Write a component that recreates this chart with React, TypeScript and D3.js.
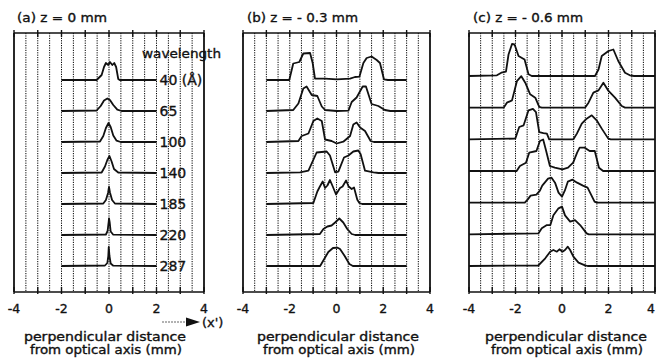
import React from "react";
import * as d3 from "d3";

// wavelength of each stacked profile, top to bottom
const wavelengthLabels = ["40 (Å)", "65", "100", "140", "185", "220", "287"];
const panelTitles = ["(a) z = 0 mm", "(b) z = - 0.3 mm", "(c) z = - 0.6 mm"];
const tickValues = [-4, -2, 0, 2, 4];

// profiles: [x' (mm), intensity (a.u.)]
const profilesA: [number, number][][] = [
  [[-2, 0], [-0.52, 0], [-0.31, 5], [-0.21, 13], [-0.13, 17], [-0.03, 15], [0.04, 18], [0.14, 15], [0.22, 17], [0.3, 13], [0.39, 1], [0.45, 0], [2, 0]],
  [[-2, 0], [-0.52, 0.5], [-0.35, 5], [-0.21, 10.5], [-0.07, 12.5], [0.04, 11], [0.18, 6], [0.35, 1.3], [0.53, 0], [2, 0]],
  [[-2, 0], [-0.38, 0.5], [-0.24, 6], [-0.13, 14], [-0.02, 19], [0.07, 15], [0.18, 6.5], [0.32, 1.3], [0.49, 0], [2, 0]],
  [[-2, 0], [-0.31, 0.5], [-0.17, 6.5], [-0.07, 13], [0.02, 17], [0.11, 11.5], [0.21, 4], [0.39, 0.5], [2, 0]],
  [[-2, 0], [-0.24, 0.5], [-0.13, 4], [-0.04, 11], [0, 17], [0.04, 11.5], [0.13, 4], [0.25, 0.5], [2, 0]],
  [[-2, 0], [-0.13, 0.5], [-0.06, 4], [-0.01, 14], [0, 16.5], [0.03, 12.5], [0.07, 3.5], [0.18, 0.3], [2, 0]],
  [[-2, 0], [-0.17, 0.5], [-0.07, 3], [-0.03, 10], [-0.01, 19], [0.02, 10], [0.07, 2.5], [0.18, 0.3], [2, 0]],
];

const profilesB: [number, number][][] = [
  [[-3, 0], [-2.02, 0], [-1.85, 16.5], [-1.59, 18], [-1.42, 26.5], [-1.13, 27], [-1.02, 17], [-0.92, 1.3], [-0.49, 1.3], [0.01, 0.7], [0.58, 1.3], [0.79, 3], [0.98, 3.3], [1.15, 17], [1.29, 22], [1.5, 23.5], [1.72, 20], [1.86, 17], [2.03, 0.7], [2.2, 0], [3, 0]],
  [[-3, 0], [-1.85, 1], [-1.63, 7.5], [-1.42, 22.5], [-1.28, 24.5], [-1.06, 16], [-0.82, 15], [-0.63, 4.5], [-0.49, 1], [0.01, 0], [0.51, 0.3], [0.65, 9], [0.86, 13.5], [1.12, 24.5], [1.26, 24.5], [1.5, 7], [1.79, 5], [2.07, 1], [2.3, 0], [3, 0]],
  [[-3, 0], [-1.63, 1], [-1.49, 6], [-1.2, 8.5], [-0.99, 21], [-0.82, 23.5], [-0.63, 21], [-0.49, 2.5], [-0.21, 1], [0.01, -1.5], [0.29, 0.3], [0.58, 6], [0.72, 17.5], [0.86, 19.5], [1.01, 14.5], [1.22, 11], [1.46, 1], [1.6, 0], [3, 0]],
  [[-3, 0], [-1.56, 0.7], [-1.2, 2.3], [-0.85, 20.5], [-0.42, 21.5], [-0.28, 17.5], [-0.06, 0.7], [0.08, 1.3], [0.32, 15.5], [0.51, 17.5], [0.72, 21.5], [0.93, 22.5], [1.03, 19], [1.22, 2.3], [1.58, 0.7], [1.8, 0], [3, 0]],
  [[-3, 0], [-0.99, 1], [-0.82, 12.5], [-0.71, 17.5], [-0.59, 22.5], [-0.49, 16], [-0.39, 18.5], [-0.28, 24], [-0.16, 17.5], [-0.02, 9.5], [0.15, 16], [0.26, 17.5], [0.41, 23.5], [0.52, 17.5], [0.65, 15], [0.75, 16.5], [0.89, 4.3], [0.98, 1], [1.1, 0], [3, 0]],
  [[-3, 0], [-0.71, 1], [-0.56, 6], [-0.39, 8.5], [-0.21, 9.5], [-0.06, 12.5], [0.12, 16.5], [0.29, 12.5], [0.46, 6], [0.65, 1], [0.8, 0], [3, 0]],
  [[-3, 0], [-0.7, 0], [-0.55, 6], [-0.35, 14], [-0.15, 18], [0.05, 18.3], [0.15, 17], [0.35, 10], [0.55, 2], [0.7, 0], [3, 0]],
];

const profilesC: [number, number][][] = [
  [[-4, 0], [-2.8, 0.7], [-2.61, 3.3], [-2.41, 4.3], [-2.3, 21.5], [-2.15, 32], [-2.04, 31.5], [-1.87, 20], [-1.61, 16.5], [-1.44, 1.7], [-1.3, 0], [1.42, 0], [1.57, 6.5], [1.71, 20], [2.0, 25], [2.21, 26.5], [2.42, 15], [2.71, 3.3], [2.92, 0.7], [3.1, 0], [4, 0]],
  [[-4, 0], [-2.51, 0], [-2.37, 5], [-2.15, 7.3], [-1.94, 26.5], [-1.75, 31.5], [-1.58, 25], [-1.37, 13.3], [-1.15, 10], [-0.98, 0.7], [-0.87, 0], [0.99, 0], [1.14, 5], [1.35, 15], [1.57, 17.3], [1.78, 25], [2.0, 16.7], [2.28, 10], [2.57, 1.7], [2.71, 0], [4, 0]],
  [[-4, 0], [-2.01, 0.7], [-1.84, 12.3], [-1.65, 14], [-1.44, 29], [-1.25, 30.5], [-1.12, 27.3], [-0.98, 7.3], [-0.8, 6.3], [-0.65, 5.7], [-0.55, 0], [0.49, 0], [0.64, 5.7], [0.85, 15.7], [1.06, 20.7], [1.28, 24], [1.49, 19], [1.71, 10.7], [1.99, 0.7], [2.1, 0], [4, 0]],
  [[-4, 0], [-1.95, 0], [-1.81, 5], [-1.55, 8.3], [-1.41, 18.3], [-1.1, 20], [-0.95, 30], [-0.81, 31.5], [-0.7, 21.7], [-0.52, 5], [-0.31, 3.3], [0.02, 1.7], [0.26, 3.3], [0.48, 8.3], [0.65, 18.3], [0.76, 23.3], [0.98, 23.3], [1.19, 20], [1.41, 20], [1.59, 3.3], [1.77, 0], [4, 0]],
  [[-4, 0], [-1.6, 0], [-1.48, 3], [-1.35, 7], [-1.1, 8], [-0.95, 12], [-0.85, 17], [-0.6, 24], [-0.45, 25], [-0.3, 20], [-0.15, 10], [0, 6], [0.12, 12], [0.25, 21], [0.45, 23], [0.65, 20], [0.9, 17], [1.1, 15], [1.25, 8], [1.4, 1], [1.5, 0], [4, 0]],
  [[-4, 0], [-1.01, 1], [-0.87, 6], [-0.65, 9.3], [-0.5, 9.3], [-0.37, 19], [-0.15, 26], [0, 27.7], [0.13, 19], [0.35, 12.7], [0.56, 14.3], [0.78, 9.3], [1.06, 1], [1.15, 0], [4, 0]],
  [[-4, 0], [-1.02, 0.5], [-0.72, 7.7], [-0.51, 14.3], [-0.37, 16], [-0.22, 14.3], [-0.11, 16.7], [0.02, 14.3], [0.13, 16], [0.25, 19.3], [0.35, 16], [0.49, 9.3], [0.71, 3.3], [0.99, 0.7], [1.1, 0], [4, 0]],
];

const FONT = "'DejaVu Sans', 'Liberation Sans', sans-serif";
const INK = "#111";
const W = 657;
const H = 363;

const layout = [
  { left: 14, right: 204, firstRow: 80, titleX: 17, titleW: 90, center: 105 },
  { left: 243, right: 430, firstRow: 80, titleX: 247, titleW: 111, center: 338 },
  { left: 469, right: 655, firstRow: 76, titleX: 473, titleW: 110, center: 566 },
];
const frameTop = 33;
const frameBottom = 292;
const lastRow = 266;

// slightly heavier glyphs, like the scanned print
const heavy = { stroke: INK, strokeWidth: 0.35 };

function Panel({ index, profiles }: { index: number; profiles: [number, number][][] }) {
  const L = layout[index];
  const x = d3.scaleLinear().domain([-4, 4]).range([L.left, L.right]);
  const row = d3.scaleLinear().domain([0, wavelengthLabels.length - 1]).range([L.firstRow, lastRow]);
  const amp = d3.scaleLinear().domain([0, 30]).range([0, 30]);
  const grid = d3.range(-3.5, 4, 0.5);
  const ticks = d3.range(-4, 5, 1);

  return (
    <g>
      <text x={L.titleX} y={22} fontSize={12} fontFamily={FONT} fill={INK} {...heavy}
        textLength={L.titleW} lengthAdjust="spacingAndGlyphs">{panelTitles[index]}</text>

      {grid.map((g) => (
        <line key={g} x1={x(g)} x2={x(g)} y1={frameTop} y2={frameBottom}
          stroke="#000" strokeWidth={1} strokeDasharray="1.2 1.2" />
      ))}

      <line x1={x(-4)} x2={x(-4)} y1={frameTop} y2={frameBottom} stroke={INK} strokeWidth={1.8} />
      <line x1={x(4)} x2={x(4)} y1={frameTop} y2={frameBottom} stroke={INK} strokeWidth={1.8} />
      <line x1={x(-4)} x2={x(4)} y1={frameTop} y2={frameTop} stroke={INK} strokeWidth={1.5} />
      <line x1={x(-4)} x2={x(4)} y1={frameBottom} y2={frameBottom} stroke={INK} strokeWidth={1.5} />
      {ticks.map((t) => (
        <g key={t}>
          <line x1={x(t)} x2={x(t)} y1={frameTop - 3} y2={frameTop + 4} stroke={INK} strokeWidth={1.4} />
          <line x1={x(t)} x2={x(t)} y1={frameBottom - 5} y2={frameBottom + 2} stroke={INK} strokeWidth={1.4} />
        </g>
      ))}

      {tickValues.map((t) => (
        <text key={t} x={Math.min(x(t), W - 6)} y={313} fontSize={12.5} fontFamily={FONT} fill={INK} {...heavy}
          textAnchor="middle">{t < 0 ? `-${-t}` : `${t}`}</text>
      ))}

      {profiles.map((p, i) => {
        const base = row(i);
        const line = d3.line<[number, number]>()
          .x((d) => x(d[0]))
          .y((d) => base - amp(d[1]));
        return <path key={i} d={line(p) ?? ""} fill="none" stroke={INK} strokeWidth={1.8} strokeLinejoin="round" />;
      })}

      <text x={L.center} y={341} fontSize={11.5} fontFamily={FONT} fill={INK} textAnchor="middle" {...heavy}
        textLength={162} lengthAdjust="spacingAndGlyphs">perpendicular distance</text>
      <text x={L.center + 1} y={354} fontSize={11.5} fontFamily={FONT} fill={INK} textAnchor="middle" {...heavy}
        textLength={152} lengthAdjust="spacingAndGlyphs">from optical axis (mm)</text>

      {index === 0 && (
        <g>
          <text x={142} y={58} fontSize={13} fontFamily={FONT} fill={INK} {...heavy}
            textLength={79} lengthAdjust="spacingAndGlyphs">wavelength</text>
          {wavelengthLabels.map((w, i) => (
            <text key={w} x={x(2) + 3} y={row(i) + 5} fontSize={14} fontFamily={FONT} fill={INK} {...heavy}>{w}</text>
          ))}
          <line x1={162} x2={189} y1={322} y2={322} stroke="#666" strokeWidth={1.2} strokeDasharray="2 1" />
          <polygon points="186,317.5 200,322 186,326.5" fill={INK} />
          <text x={202} y={327} fontSize={13} fontFamily={FONT} fill={INK} {...heavy}>(x')</text>
        </g>
      )}
    </g>
  );
}

export default function App() {
  const sets = [profilesA, profilesB, profilesC];
  return (
    <svg width={W} height={H} viewBox={`0 0 ${W} ${H}`}
      style={{ position: "absolute", left: 0, top: 0, background: "#fff" }}>
      <rect width={W} height={H} fill="#fff" />
      {sets.map((s, i) => (
        <Panel key={i} index={i} profiles={s} />
      ))}
    </svg>
  );
}
